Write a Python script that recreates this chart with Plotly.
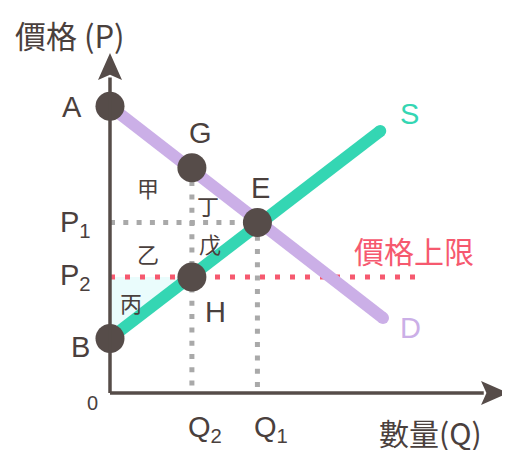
import plotly.graph_objects as go

# price ceiling diagram: values in chart units (Q, P)
demand_q = [0, 10]
demand_p = [10.5, 2.75]
supply_q = [0, 9.9]
supply_p = [2, 9.6]

point_names = ["A", "G", "E", "H", "B"]
point_q = [0, 3, 5.4, 3, 0]
point_p = [10.5, 8.25, 6.25, 4.25, 2]

q1, q2 = 5.4, 3
p1, p2 = 6.25, 4.25
ceiling_end = 11.25
axis_q_end, axis_p_end = 14.58, 12.45

# page has an 8px body margin, so the figure is a bit smaller than the window
PAD = 8
W, H = 510 - PAD, 450 - PAD
SCALE = 27.3
X0, Y0 = 110, 393

DARK = "#564c49"
TEXT = "#4a403d"
PURPLE = "#cbafe7"
TEAL = "#34d6b3"
GRAY = "#a9a9a9"
RED = "#f6596f"
LATIN = "Liberation Sans, Arial, sans-serif"
CJK = "Noto Sans CJK TC, sans-serif"


def px(x, y):
    # window pixel position -> paper coordinates for labels
    return (x - PAD) / W, 1 - (y - PAD) / H


fig = go.Figure()

# shaded area 丙
fig.add_trace(go.Scatter(x=[0, 0, q2], y=[p2, supply_p[0], p2], fill="toself",
                         fillcolor="#eafcfc", line=dict(width=0), mode="lines",
                         hoverinfo="skip"))

# dotted guides
dot = dict(color=GRAY, width=5, dash="5px,8.3px")
fig.add_trace(go.Scatter(x=[0, q1], y=[p1, p1], mode="lines", line=dot))
fig.add_trace(go.Scatter(x=[q2, q2], y=[point_p[1], 0], mode="lines", line=dot))
fig.add_trace(go.Scatter(x=[q1, q1], y=[p1, 0], mode="lines", line=dot))

# price ceiling
fig.add_trace(go.Scatter(x=[0, ceiling_end], y=[p2, p2], mode="lines",
                         line=dict(color=RED, width=5, dash="5px,10px")))

# demand and supply
fig.add_trace(go.Scatter(x=demand_q, y=demand_p, mode="lines+markers",
                         line=dict(color=PURPLE, width=12),
                         marker=dict(color=PURPLE, size=12)))
fig.add_trace(go.Scatter(x=supply_q, y=supply_p, mode="lines+markers",
                         line=dict(color=TEAL, width=12),
                         marker=dict(color=TEAL, size=12)))

# axes with arrowheads
ah = 27 / SCALE
hw = 12 / SCALE
fig.add_shape(type="line", x0=0, y0=0, x1=axis_q_end - ah + 0.1, y1=0,
              line=dict(color=DARK, width=3.5))
fig.add_shape(type="line", x0=0, y0=0, x1=0, y1=axis_p_end - ah + 0.1,
              line=dict(color=DARK, width=3.5))
fig.add_shape(type="path", fillcolor=DARK, line=dict(width=0),
              path=f"M {axis_q_end},0 L {axis_q_end - ah},{hw} L {axis_q_end - ah * 0.8},0 "
                   f"L {axis_q_end - ah},{-hw} Z")
fig.add_shape(type="path", fillcolor=DARK, line=dict(width=0),
              path=f"M 0,{axis_p_end} L {-hw},{axis_p_end - ah} L 0,{axis_p_end - ah * 0.8} "
                   f"L {hw},{axis_p_end - ah} Z")

# key points
fig.add_trace(go.Scatter(x=point_q, y=point_p, mode="markers",
                         marker=dict(color=DARK, size=29), text=point_names))

labels = [
    ("價格 (P)", 70, 34, CJK, 31, TEXT),
    ("A", 72, 107, LATIN, 29, TEXT),
    ("G", 200, 133, LATIN, 29, TEXT),
    ("E", 260, 188, LATIN, 29, TEXT),
    ("H", 215, 312, LATIN, 29, TEXT),
    ("B", 80, 347, LATIN, 29, TEXT),
    ("S", 409, 114, LATIN, 29, TEAL),
    ("D", 410, 328, LATIN, 29, PURPLE),
    ("價格上限", 414, 250, CJK, 30, RED),
    ("甲", 148, 187, CJK, 22, TEXT),
    ("丁", 208, 205, CJK, 22, TEXT),
    ("乙", 148, 253, CJK, 22, TEXT),
    ("戊", 210, 243, CJK, 22, TEXT),
    ("丙", 131, 302, CJK, 22, TEXT),
    ("0", 92, 403, LATIN, 20, TEXT),
    ("P<sub>1</sub>", 75, 224, LATIN, 29, TEXT),
    ("P<sub>2</sub>", 75, 277, LATIN, 29, TEXT),
    ("Q<sub>2</sub>", 205, 429, LATIN, 29, TEXT),
    ("Q<sub>1</sub>", 271, 429, LATIN, 29, TEXT),
    ("數量(Q)", 430, 432, CJK, 30, TEXT),
]
for txt, x, y, fam, size, col in labels:
    xp, yp = px(x, y)
    fig.add_annotation(x=xp, y=yp, xref="paper", yref="paper", text=txt,
                       showarrow=False, xanchor="center", yanchor="middle",
                       font=dict(family=fam, size=size, color=col))

fig.update_xaxes(range=[(PAD - X0) / SCALE, (510 - X0) / SCALE], visible=False)
fig.update_yaxes(range=[-(450 - Y0) / SCALE, (Y0 - PAD) / SCALE], visible=False)
fig.update_layout(width=W, height=H, margin=dict(l=0, r=0, t=0, b=0),
                  showlegend=False, plot_bgcolor="white", paper_bgcolor="white")

fig.write_html("out.html")
